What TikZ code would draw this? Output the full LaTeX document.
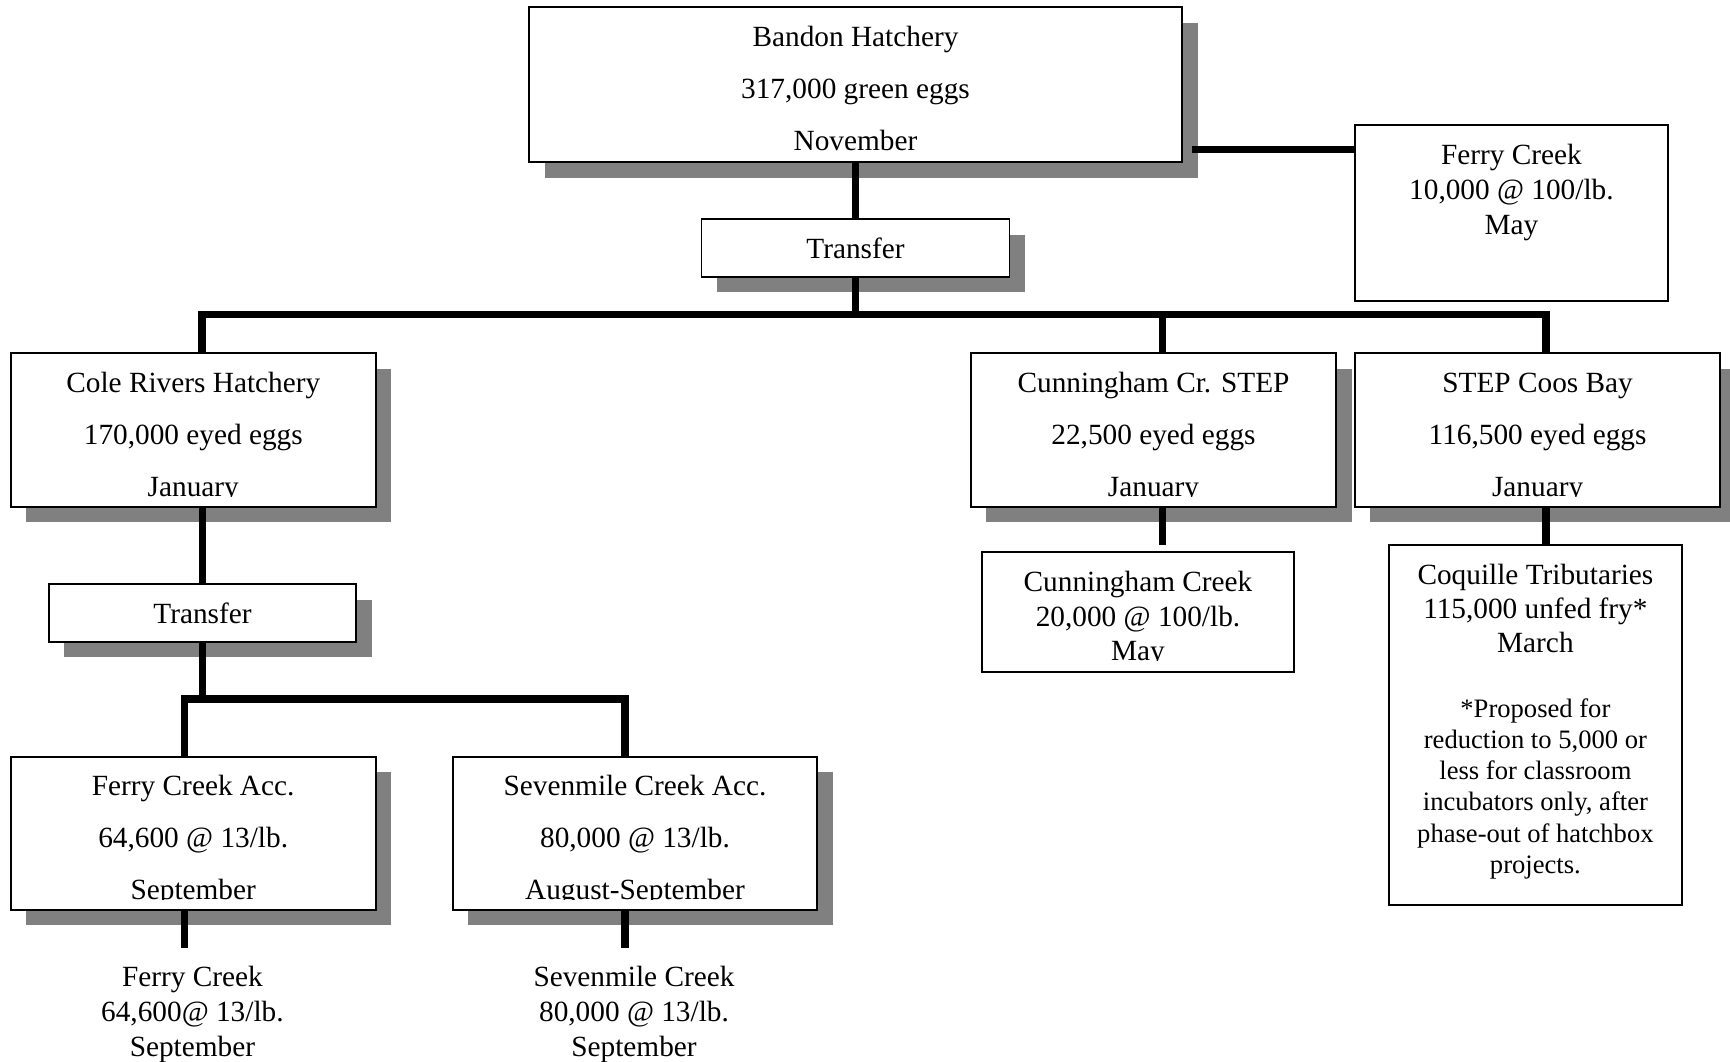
\documentclass[tikz,border=0pt]{standalone}
\usepackage{fontspec}
\setmainfont{Liberation Serif}
\usetikzlibrary{shadows}
\definecolor{shadowgray}{HTML}{808080}
\newcommand\tlines[6]{\foreach \t [count=\i] in {#6} {\node[#1] (#2\i) at (#3,{#4+#5*(\i-1)}) {\t};}}
\begin{document}
\begin{tikzpicture}[x=1pt,y=-1pt,
  box/.style={draw=black,line width=1.8pt,fill=white,inner sep=0pt},
  shd/.style={general shadow={fill=shadowgray,shadow xshift=15.5pt,shadow yshift=-15.5pt}},
  conn/.style={draw=black,line width=7.5pt,line join=miter},
  lbl/.style={anchor=base,inner sep=0pt,font=\fontsize{29.3}{35}\selectfont},
  sml/.style={anchor=base,inner sep=0pt,font=\fontsize{26.6}{31.3}\selectfont},
  cut/.style={fill=white,draw=none}]
\useasboundingbox (0,0) rectangle (1730,1061);

% boxes
\node[box,shd,minimum width=653pt,minimum height=155pt] (bandon) at (855.5,84.5) {};
\node[box,shd,minimum width=308pt,minimum height=57.7pt] (tr1) at (855.5,247.9) {};
\node[box,minimum width=312.7pt,minimum height=175.7pt] (ferrytop) at (1511.4,212.9) {};
\node[box,shd,minimum width=365.3pt,minimum height=153.4pt] (cole) at (193.3,430) {};
\node[box,shd,minimum width=365.4pt,minimum height=153.4pt] (cunstep) at (1153.5,430) {};
\node[box,shd,minimum width=365.4pt,minimum height=153.4pt] (coos) at (1537.6,430) {};
\node[box,shd,minimum width=307.7pt,minimum height=57.7pt] (tr2) at (202.5,612.9) {};
\node[box,minimum width=312pt,minimum height=120.3pt] (cuncreek) at (1138,611.9) {};
\node[box,minimum width=292.7pt,minimum height=360pt] (coq) at (1535.4,725) {};
\node[box,shd,minimum width=364.8pt,minimum height=153.3pt] (facc) at (193.2,833.3) {};
\node[box,shd,minimum width=364.7pt,minimum height=153.3pt] (sacc) at (635,833.3) {};

% connectors
\coordinate (busL) at (202,314.5);
\coordinate (busC) at (1162.4,314.5);
\coordinate (busR) at (1546,314.5);
\coordinate (fcS) at (1192,149.3);
\coordinate (lbL) at (184.3,699);
\coordinate (lbR) at (625.2,699);
\coordinate (fEnd) at (184.3,948.3);
\coordinate (sEnd) at (625.2,948.3);
\coordinate (cEnd) at (1162.4,545);

\draw[conn] (bandon.south) -- (tr1.north);
\draw[conn] (fcS) -- (fcS -| ferrytop.west);
\draw[conn] (tr1.south) -- (tr1.south |- busL);
\draw[conn] (busL |- cole.north) -- (busL) -- (busR) -- (busR |- coos.north);
\draw[conn] (busC) -- (busC |- cunstep.north);
\draw[conn] (tr2.north |- cole.south) -- (tr2.north);
\draw[conn] (tr2.south) -- (tr2.south |- lbL);
\draw[conn] (lbL |- facc.north) -- (lbL) -- (lbR) -- (lbR |- sacc.north);
\draw[conn] (fEnd |- facc.south) -- (fEnd);
\draw[conn] (sEnd |- sacc.south) -- (sEnd);
\draw[conn] (cEnd |- cunstep.south) -- (cEnd);
\draw[conn] (busR |- coos.south) -- (busR |- coq.north);

% texts
\tlines{lbl}{bandonT}{855.5}{46.3}{52.2}{Bandon Hatchery,{317,000 green eggs},November}
\tlines{lbl}{tr1T}{855.5}{258}{0}{Transfer}
\tlines{lbl}{ferrytopT}{1511.4}{164}{35}{Ferry Creek,{10,000 @ 100/lb.},May}
\tlines{lbl}{coleT}{193.3}{392.5}{52}{Cole Rivers Hatchery,{170,000 eyed eggs},January}
\tlines{lbl}{cunstepT}{1153.5}{392.5}{52}{Cunningham Cr. STEP,{22,500 eyed eggs},January}
\tlines{lbl}{coosT}{1537.6}{392.5}{52}{STEP Coos Bay,{116,500 eyed eggs},January}
\tlines{lbl}{tr2T}{202.5}{623}{0}{Transfer}
\tlines{lbl}{cuncreekT}{1138}{591.5}{34.5}{Cunningham Creek,{20,000 @ 100/lb.},May}
\tlines{lbl}{coqT}{1535.4}{584.3}{34.3}{Coquille Tributaries,{115,000 unfed fry*},March}
\tlines{sml}{coqN}{1535.4}{717}{31.3}{*Proposed for,{reduction to 5,000 or},less for classroom,{incubators only, after},phase-out of hatchbox,projects.}
\tlines{lbl}{faccT}{193.2}{795.7}{52}{Ferry Creek Acc.,{64,600 @ 13/lb.},September}
\tlines{lbl}{saccT}{635}{795.7}{52}{Sevenmile Creek Acc.,{80,000 @ 13/lb.},August-September}
\tlines{lbl}{ferryOutT}{192.4}{986}{35}{Ferry Creek,{64,600@ 13/lb.},September}
\tlines{lbl}{sevenOutT}{634}{986}{35}{Sevenmile Creek,{80,000 @ 13/lb.},September}

% text cut-off at the bottom of boxes
\foreach \b in {cole,cunstep,coos,facc,sacc}
  \fill[cut] ([xshift=2pt,yshift=2pt]\b.south west) rectangle ([xshift=-2pt,yshift=10.7pt]\b.south east);
\fill[cut] ([xshift=2pt,yshift=2pt]cuncreek.south west) rectangle ([xshift=-2pt,yshift=12pt]cuncreek.south east);
\end{tikzpicture}
\end{document}
